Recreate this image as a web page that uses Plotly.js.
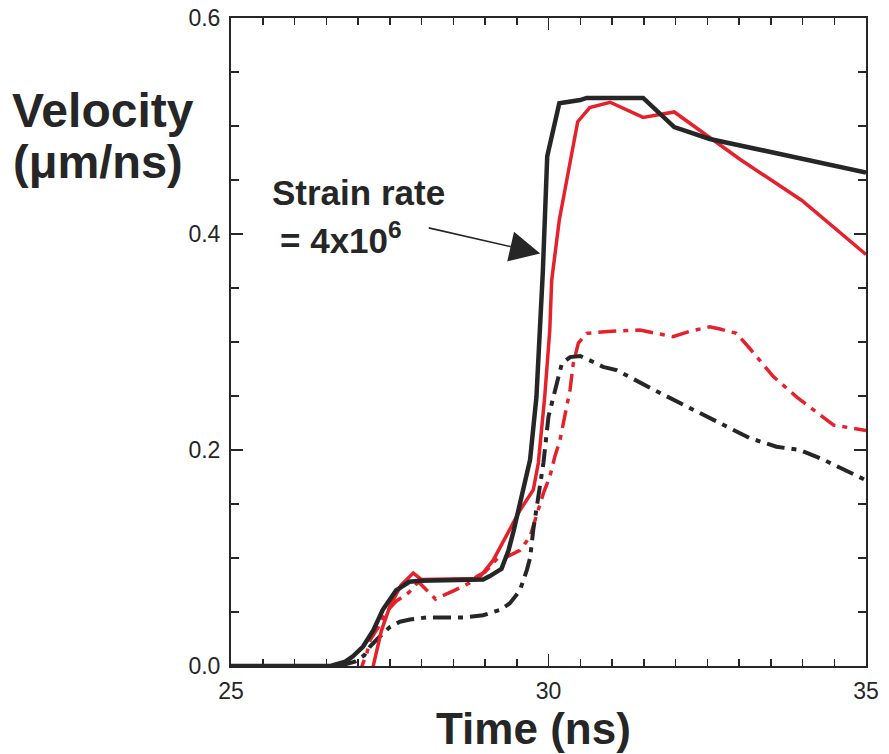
<!DOCTYPE html>
<html>
<head>
<meta charset="utf-8">
<script src="https://cdn.plot.ly/plotly-3.0.1.min.js"></script>
<style>
html,body{margin:0;padding:0;background:#fff;}
#chart{width:889px;height:754px;}
</style>
</head>
<body>
<div id="chart"></div>
<script>
// Black solid line (strain rate 4x10^6)
const blackSolidX = [25, 26.57, 26.8, 26.92, 27.08, 27.24, 27.39, 27.6, 27.81, 27.97, 28.97, 29.07, 29.26, 29.37, 29.45, 29.6, 29.71, 29.81, 29.87, 29.91, 29.98, 30.17, 30.5, 30.6, 31.49, 31.98, 32.54, 33.96, 35];
const blackSolidY = [0, 0, 0.004, 0.009, 0.018, 0.033, 0.052, 0.070, 0.078, 0.079, 0.080, 0.083, 0.090, 0.107, 0.125, 0.163, 0.191, 0.249, 0.311, 0.364, 0.472, 0.521, 0.524, 0.526, 0.526, 0.499, 0.488, 0.470, 0.457];

// Red solid line
const redSolidX = [27.2, 27.37, 27.5, 27.68, 27.87, 28.0, 28.9, 29.13, 29.24, 29.55, 29.76, 29.84, 29.94, 30.02, 30.05, 30.17, 30.46, 30.65, 30.97, 31.49, 31.98, 32.54, 33.02, 33.99, 35];
const redSolidY = [-0.01, 0.033, 0.055, 0.075, 0.086, 0.080, 0.081, 0.098, 0.110, 0.144, 0.163, 0.188, 0.249, 0.311, 0.357, 0.413, 0.504, 0.517, 0.522, 0.508, 0.513, 0.489, 0.469, 0.431, 0.381];

// Red dash-dot line
const redDashX = [27.0, 27.14, 27.19, 27.32, 27.43, 27.6, 27.8, 27.95, 28.22, 28.38, 28.52, 28.76, 28.87, 29.0, 29.2, 29.34, 29.55, 29.71, 29.92, 30.02, 30.1, 30.18, 30.26, 30.34, 30.39, 30.47, 30.6, 31.0, 31.44, 31.96, 32.23, 32.54, 32.7, 32.96, 33.17, 33.54, 33.91, 34.17, 34.49, 34.91, 35];
const redDashY = [-0.01, 0.012, 0.024, 0.036, 0.049, 0.060, 0.068, 0.078, 0.062, 0.066, 0.070, 0.077, 0.083, 0.087, 0.100, 0.101, 0.107, 0.120, 0.160, 0.175, 0.194, 0.209, 0.231, 0.256, 0.280, 0.299, 0.308, 0.310, 0.311, 0.305, 0.310, 0.314, 0.312, 0.308, 0.294, 0.268, 0.249, 0.237, 0.223, 0.219, 0.218];

// Black dash-dot line
const blackDashX = [26.7, 26.95, 27.1, 27.19, 27.32, 27.5, 27.66, 27.82, 28.08, 28.69, 28.97, 29.24, 29.39, 29.55, 29.66, 29.71, 29.76, 29.84, 29.92, 30.0, 30.08, 30.15, 30.21, 30.34, 30.5, 30.65, 30.86, 31.07, 31.44, 31.65, 32.12, 32.65, 33.17, 33.59, 33.96, 34.33, 34.7, 35];
const blackDashY = [0, 0.004, 0.010, 0.018, 0.026, 0.036, 0.041, 0.043, 0.045, 0.045, 0.047, 0.052, 0.058, 0.070, 0.089, 0.100, 0.126, 0.160, 0.188, 0.231, 0.249, 0.265, 0.280, 0.286, 0.287, 0.283, 0.277, 0.274, 0.262, 0.256, 0.242, 0.226, 0.211, 0.203, 0.200, 0.191, 0.180, 0.172];

const xTitle = 'Time (ns)';
const yTitle1 = 'Velocity';
const yTitle2 = '(\u03bcm/ns)';
const noteLine1 = 'Strain rate';
const noteLine2 = '= 4x10<sup>6</sup>';

const RED = '#e5212b';
const BLACK = '#262626';
const FONT = 'Liberation Sans, Arial, Helvetica, sans-serif';
const DASHDOT = '18px,7px,5px,7px';

const traces = [
  {x: redDashX, y: redDashY, mode: 'lines', line: {color: RED, width: 3.5, dash: DASHDOT}, hoverinfo: 'skip'},
  {x: blackDashX, y: blackDashY, mode: 'lines', line: {color: BLACK, width: 4, dash: DASHDOT}, hoverinfo: 'skip'},
  {x: redSolidX, y: redSolidY, mode: 'lines', line: {color: RED, width: 3.5}, hoverinfo: 'skip'},
  {x: blackSolidX, y: blackSolidY, mode: 'lines', line: {color: BLACK, width: 4.5}, hoverinfo: 'skip'}
];

const axisCommon = {
  showline: true, linecolor: BLACK, linewidth: 2, mirror: 'ticks',
  ticks: 'inside', tickcolor: BLACK, tickwidth: 1.5, ticklen: 12,
  showgrid: false, zeroline: false, fixedrange: true,
  tickfont: {family: FONT, size: 23, color: BLACK}
};

const layout = {
  width: 889, height: 754,
  margin: {l: 231, r: 23, t: 18, b: 88},
  paper_bgcolor: '#ffffff', plot_bgcolor: '#ffffff',
  showlegend: false,
  font: {family: FONT, color: BLACK},
  xaxis: Object.assign({}, axisCommon, {
    range: [25, 35], tick0: 25, dtick: 5,
    minor: {dtick: 0.5, ticks: 'inside', ticklen: 7, tickwidth: 1.5, tickcolor: BLACK, showgrid: false},
    ticklabelstandoff: 3
  }),
  yaxis: Object.assign({}, axisCommon, {
    range: [0, 0.6], tick0: 0, dtick: 0.2, tickformat: '.1f',
    minor: {dtick: 0.05, ticks: 'inside', ticklen: 8, tickwidth: 1.5, tickcolor: BLACK, showgrid: false},
    ticklabelstandoff: 4
  }),
  annotations: [
    {xref: 'paper', yref: 'paper', x: 0.4756, y: -0.097, xanchor: 'center', yanchor: 'middle',
     text: '<b>' + xTitle + '</b>', showarrow: false, font: {family: FONT, size: 44, color: BLACK}},
    {xref: 'paper', yref: 'paper', x: -0.348, y: 0.8565, xanchor: 'left', yanchor: 'middle',
     text: '<b>' + yTitle1 + '</b>', showarrow: false, font: {family: FONT, size: 48, color: BLACK}},
    {xref: 'paper', yref: 'paper', x: -0.346, y: 0.778, xanchor: 'left', yanchor: 'middle',
     text: '<b>' + yTitle2 + '</b>', showarrow: false, font: {family: FONT, size: 47, color: BLACK}},
    {xref: 'paper', yref: 'paper', x: 0.0614, y: 0.73, xanchor: 'left', yanchor: 'middle',
     text: '<b>' + noteLine1 + '</b>', showarrow: false, font: {family: FONT, size: 35, color: BLACK}},
    {xref: 'paper', yref: 'paper', x: 0.074, y: 0.6605, xanchor: 'left', yanchor: 'middle',
     text: '<b>' + noteLine2 + '</b>', showarrow: false, font: {family: FONT, size: 35, color: BLACK}},
    {xref: 'x', yref: 'y', x: 29.87, y: 0.382, axref: 'x', ayref: 'y', ax: 28.09, ay: 0.406,
     text: '', showarrow: true, arrowhead: 2, arrowsize: 3.8, arrowwidth: 1.6, arrowcolor: BLACK, standoff: 0}
  ]
};

Plotly.newPlot('chart', traces, layout, {staticPlot: true, displayModeBar: false});
</script>
</body>
</html>
